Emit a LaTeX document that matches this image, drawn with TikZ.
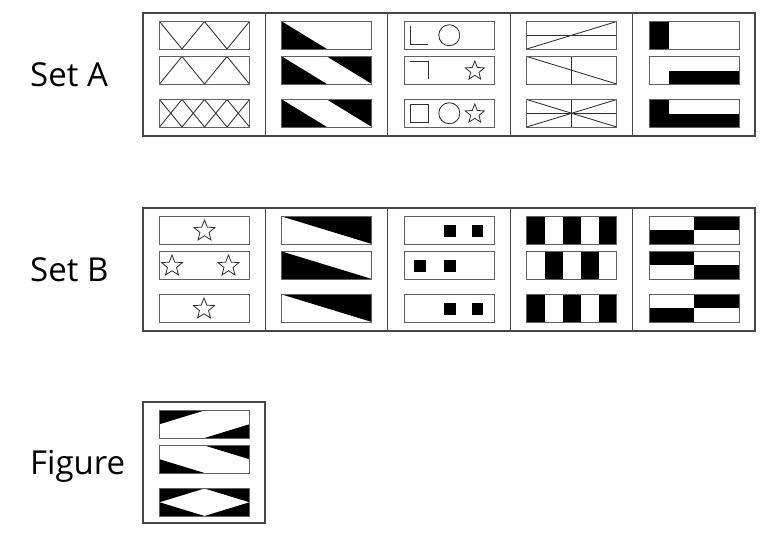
\documentclass[tikz,border=0pt]{standalone}
\usepackage{fontspec}
\setmainfont{Open Sans}
\usetikzlibrary{shapes.geometric}
\tikzset{
  frame/.style={draw=black!72, line width=1.2pt},
  inner/.style={draw=black!62, line width=1pt},
  ln/.style={draw=black!82, line width=0.85pt},
  staro/.style={star, star points=5, star point ratio=2.3, draw=black!82, line width=0.8pt, inner sep=0pt, minimum size=#1},
  lbl/.style={font=\fontsize{33}{33}\selectfont, anchor=base west, inner sep=0pt},
}
\newcommand\rowat[3]{\begin{scope}[shift={(#1,#2)}]#3\draw[inner](0,0) rectangle (90,27.5);\end{scope}}
% Set A contents
\newcommand\aOneA{\draw[ln] (0,0)--(22.5,27.5)--(45,0)--(67.5,27.5)--(90,0);}
\newcommand\aOneB{\draw[ln] (0,27.5)--(22.5,0)--(45,27.5)--(67.5,0)--(90,27.5);}
\newcommand\aTwoA{\fill (0,0)--(45,27.5)--(0,27.5)--cycle;}
\newcommand\aTwoB{\aTwoA\fill (45,0)--(90,0)--(90,27.5)--cycle;}
\newcommand\aThrSq{\draw[ln] (6,4.5)--(6,22.5)--(24,22.5);}
\newcommand\aThrSqB{\draw[ln] (6,4.5)--(24,4.5)--(24,22.5);}
\newcommand\aThrCi{\draw[ln] (45,13.75) circle (10.5);}
\newcommand\aThrSt{\node[staro=20pt] (st) at (70.5,14.5) {};}
\newcommand\aFouA{\draw[ln] (0,13.75)--(90,13.75); \draw[ln] (0,27.5)--(90,0);}
\newcommand\aFouB{\draw[ln] (45,0)--(45,27.5); \draw[ln] (0,0)--(90,27.5);}
\newcommand\aFivA{\fill (0,0) rectangle (20,27.5);}
\newcommand\aFivB{\fill (20,14) rectangle (90,27.5);}
% Set B contents
\newcommand\bTwoA{\fill (0,0)--(90,0)--(90,27.5)--cycle;}
\newcommand\bTwoB{\fill (0,0)--(90,27.5)--(0,27.5)--cycle;}
\newcommand\bThrA{\fill (40,8) rectangle (51.5,20); \fill (67.5,8) rectangle (79,20);}
\newcommand\bThrB{\fill (10,8) rectangle (21.5,20); \fill (40,8) rectangle (51.5,20);}
\newcommand\bFouA{\fill (0,0) rectangle (18,27.5); \fill (36,0) rectangle (54,27.5); \fill (72,0) rectangle (90,27.5);}
\newcommand\bFouB{\fill (18,0) rectangle (36,27.5); \fill (54,0) rectangle (72,27.5);}
\newcommand\bFivA{\fill (45,0) rectangle (90,13.75); \fill (0,13.75) rectangle (45,27.5);}
\newcommand\bFivB{\fill (0,0) rectangle (45,13.75); \fill (45,13.75) rectangle (90,27.5);}
% Figure contents
\newcommand\fgA{\fill (0,0)--(45,0)--(0,13.75)--cycle; \fill (45,27.5)--(90,13.75)--(90,27.5)--cycle;}
\newcommand\fgB{\fill (45,0)--(90,0)--(90,13.75)--cycle; \fill (0,13.75)--(45,27.5)--(0,27.5)--cycle;}
\begin{document}
\begin{tikzpicture}[x=1pt,y=-1pt]
\useasboundingbox[fill=white] (0,0) rectangle (774,541);
% labels
\node[lbl] (setA) at (30,86.5) {Set A};
\node[lbl] (setB) at (30,281) {Set B};
\node[lbl] (figure) at (30,474.5) {Figure};
% frames
\draw[frame] (143,13) rectangle (755,136);
\draw[frame] (143,208) rectangle (755,331);
\draw[frame] (143,402) rectangle (265,523);
\foreach \xx in {265.4,387.8,510.2,632.6}{
  \draw[frame] (\xx,13) -- (\xx,136);
  \draw[frame] (\xx,208) -- (\xx,331);
}
% ---- Set A ----
\rowat{159.5}{21.5}{\aOneA}
\rowat{159.5}{56.5}{\aOneB}
\rowat{159.5}{99.5}{\aOneA\aOneB}
\rowat{281.9}{21.5}{\aTwoA}
\rowat{281.9}{56.5}{\aTwoB}
\rowat{281.9}{99.5}{\aTwoB}
\rowat{404.3}{21.5}{\aThrSq\aThrCi}
\rowat{404.3}{56.5}{\aThrSqB\aThrSt}
\rowat{404.3}{99.5}{\draw[ln] (6,4.5) rectangle (24,22.5);\aThrCi\aThrSt}
\rowat{526.7}{21.5}{\aFouA}
\rowat{526.7}{56.5}{\aFouB}
\rowat{526.7}{99.5}{\aFouA\aFouB}
\rowat{649.1}{21.5}{\aFivA}
\rowat{649.1}{56.5}{\aFivB}
\rowat{649.1}{99.5}{\aFivA\aFivB}
% ---- Set B ----
\rowat{159.5}{216.5}{\node[staro=22pt] (s1) at (45,14.5) {};}
\rowat{159.5}{251.5}{\node[staro=22pt] (s2) at (12.5,14.5) {}; \node[staro=22pt] (s3) at (69,14.5) {};}
\rowat{159.5}{294.5}{\node[staro=22pt] (s4) at (44.5,14.5) {};}
\rowat{281.9}{216.5}{\bTwoA}
\rowat{281.9}{251.5}{\bTwoB}
\rowat{281.9}{294.5}{\bTwoA}
\rowat{404.3}{216.5}{\bThrA}
\rowat{404.3}{251.5}{\bThrB}
\rowat{404.3}{294.5}{\bThrA}
\rowat{526.7}{216.5}{\bFouA}
\rowat{526.7}{251.5}{\bFouB}
\rowat{526.7}{294.5}{\bFouA}
\rowat{649.1}{216.5}{\bFivA}
\rowat{649.1}{251.5}{\bFivB}
\rowat{649.1}{294.5}{\bFivA}
% ---- Figure ----
\rowat{159.5}{410.5}{\fgA}
\rowat{159.5}{445.5}{\fgB}
\rowat{159.5}{488.5}{\fgA\fgB}
\end{tikzpicture}
\end{document}
